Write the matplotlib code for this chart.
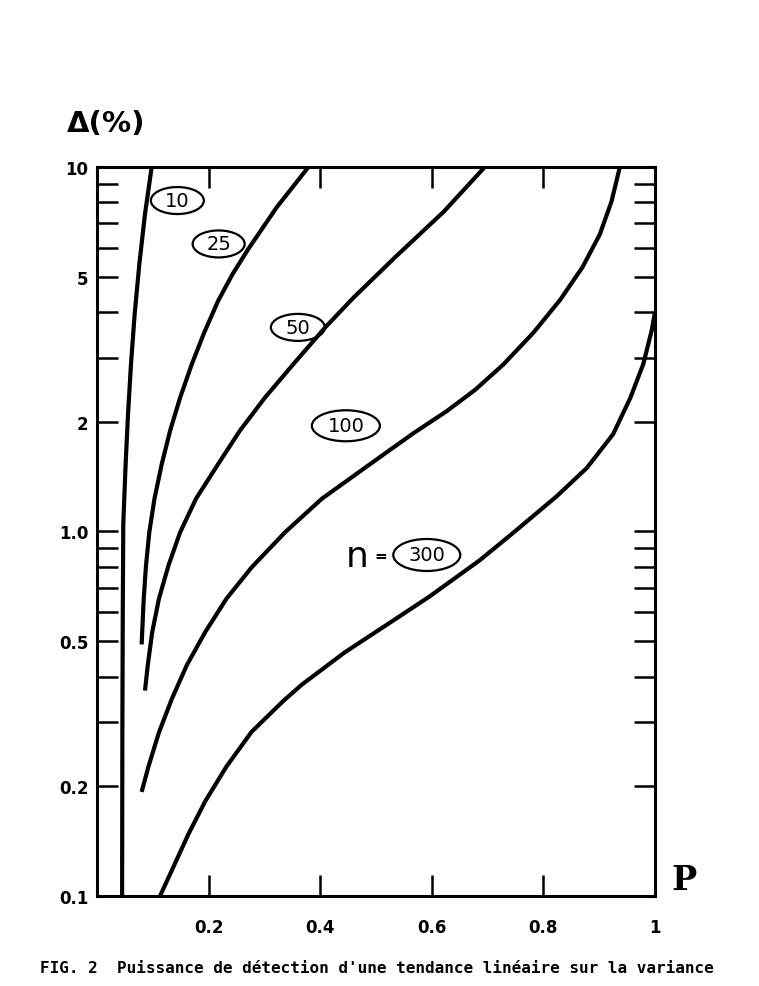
import matplotlib
matplotlib.use("Agg")
import matplotlib.pyplot as plt
from matplotlib.patches import Ellipse
from matplotlib.transforms import ScaledTranslation

# courbes : P (puissance) et Delta (%)
p_10 = [0.045, 0.0455, 0.0462, 0.0471, 0.0513, 0.0556, 0.0609, 0.0675, 0.0759, 0.086, 0.098]
d_10 = [0.1, 0.3, 0.6, 1.05, 1.53, 2.10, 2.88, 3.95, 5.42, 7.43, 10]

p_25 = [0.080, 0.0837, 0.0878, 0.0937, 0.103, 0.116, 0.131, 0.149, 0.170, 0.192, 0.217, 0.2425, 0.270, 0.322, 0.379]
d_25 = [0.49, 0.654, 0.806, 0.995, 1.23, 1.53, 1.89, 2.33, 2.88, 3.51, 4.29, 5.07, 5.92, 7.75, 10]

p_50 = [0.086, 0.091, 0.099, 0.111, 0.128, 0.149, 0.1774, 0.217, 0.256, 0.301, 0.352, 0.409, 0.459, 0.507, 0.534, 0.621, 0.695]
d_50 = [0.366, 0.43, 0.53, 0.654, 0.806, 0.995, 1.23, 1.53, 1.89, 2.33, 2.88, 3.63, 4.37, 5.15, 5.65, 7.53, 10]

p_100 = [0.080, 0.092, 0.111, 0.134, 0.161, 0.194, 0.232, 0.277, 0.337, 0.403, 0.507, 0.567, 0.627,
         0.678, 0.728, 0.782, 0.830, 0.870, 0.901, 0.922, 0.937]
d_100 = [0.193, 0.226, 0.281, 0.347, 0.43, 0.53, 0.654, 0.797, 0.995, 1.23, 1.60, 1.86, 2.14,
         2.45, 2.87, 3.51, 4.32, 5.31, 6.53, 8.04, 10]

p_300 = [0.113, 0.134, 0.164, 0.194, 0.232, 0.277, 0.334, 0.367, 0.444, 0.534, 0.597, 0.686, 0.746,
         0.824, 0.878, 0.925, 0.956, 0.979, 0.994, 1.0]
d_300 = [0.1, 0.1175, 0.148, 0.182, 0.2265, 0.282, 0.343, 0.380, 0.466, 0.574, 0.665, 0.834, 0.992,
         1.25, 1.495, 1.85, 2.33, 2.88, 3.56, 4.0]

curves = [(p_10, d_10), (p_25, d_25), (p_50, d_50), (p_100, d_100), (p_300, d_300)]

# etiquettes n dans les ellipses
n_labels = ["10", "25", "50", "100", "300"]
n_label_pos = [(0.144, 8.09), (0.218, 6.15), (0.360, 3.63), (0.446, 1.95), (0.591, 0.862)]
n_label_size = [(0.53, 0.27), (0.52, 0.27), (0.54, 0.27), (0.68, 0.31), (0.67, 0.32)]

x_ticks = [0.2, 0.4, 0.6, 0.8, 1.0]
x_ticklabels = ["0.2", "0.4", "0.6", "0.8", "1"]
y_ticks = [0.1, 0.2, 0.3, 0.4, 0.5, 0.6, 0.7, 0.8, 0.9, 1, 2, 3, 4, 5, 6, 7, 8, 9, 10]
y_labelled = {0.1: "0.1", 0.2: "0.2", 0.5: "0.5", 1: "1.0", 2: "2", 5: "5", 10: "10"}

caption = "FIG. 2  Puissance de détection d'une tendance linéaire sur la variance"

fig = plt.figure(figsize=(7.59, 9.87), dpi=100)
ax = fig.add_axes([0.1278, 0.0912, 0.7352, 0.7386])

for p, d in curves:
    ax.plot(p, d, color="black", lw=3.0, solid_capstyle="butt", solid_joinstyle="round")

ax.set_yscale("log")
ax.set_xlim(0, 1)
ax.set_ylim(0.1, 10)

ax.set_xticks(x_ticks)
ax.set_xticklabels(x_ticklabels)
ax.set_yticks(y_ticks)
ax.set_yticklabels([y_labelled.get(v, "") for v in y_ticks])
ax.minorticks_off()
ax.tick_params(axis="both", direction="in", length=15, width=1.8,
               top=True, right=True)
ax.tick_params(axis="x", pad=16, labelsize=12)
ax.tick_params(axis="y", pad=6, labelsize=12)
for lab in ax.get_xticklabels() + ax.get_yticklabels():
    lab.set_fontweight("bold")
for s in ax.spines.values():
    s.set_linewidth(2.2)

for txt, (x, y), (w, h) in zip(n_labels, n_label_pos, n_label_size):
    tr = fig.dpi_scale_trans + ScaledTranslation(x, y, ax.transData)
    ax.add_patch(Ellipse((0, 0), w, h, transform=tr, fill=False, ec="black", lw=1.6))
    ax.text(x, y, txt, ha="center", va="center", fontsize=14)

ax.text(0.466, 0.857, "n", ha="center", va="center", fontsize=26)
ax.text(0.509, 0.857, "=", ha="center", va="center", fontsize=11, fontweight="bold")

fig.text(0.088, 0.874, "Δ(%)", ha="left", va="center", fontsize=21, fontweight="bold")
fig.text(0.885, 0.091, "P", ha="left", va="bottom", fontsize=24, fontweight="bold",
         family="DejaVu Serif")
fig.text(0.053, 0.019, caption, ha="left", va="center", fontsize=11.5,
         family="DejaVu Sans Mono", fontweight="bold")

fig.savefig("out.png", dpi=100)
